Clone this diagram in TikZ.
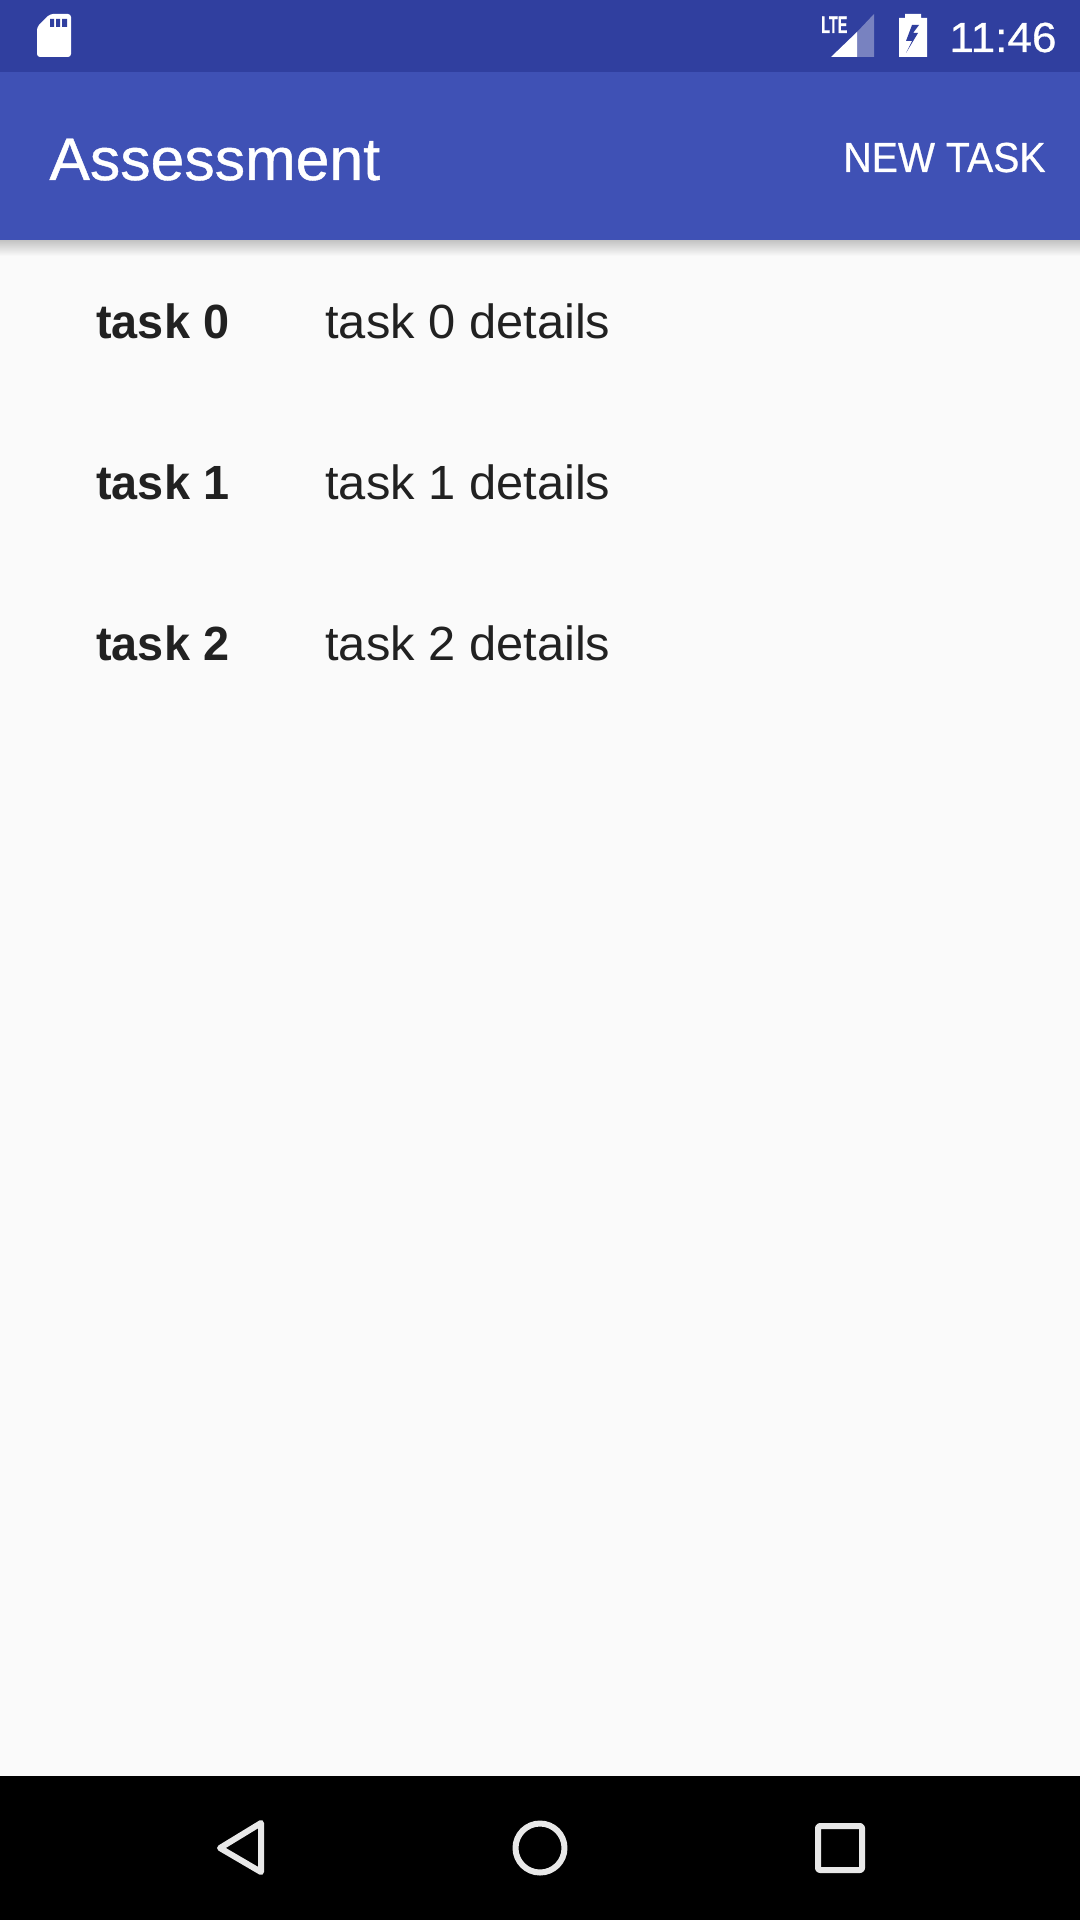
\documentclass[tikz,border=0pt]{standalone}
\usepackage{fontspec}
\setmainfont{Liberation Sans}
\newfontfamily\mediumfont[FakeBold=0.7]{Liberation Sans}
\newfontfamily\bandfont[FakeBold=0.6]{Liberation Sans Bold}
\usetikzlibrary{positioning}
\definecolor{statusblue}{HTML}{303F9F}
\definecolor{barblue}{HTML}{3F51B5}
\definecolor{pagegray}{HTML}{FAFAFA}
\definecolor{inkgray}{HTML}{212121}
\definecolor{navgray}{HTML}{E8E8E8}

\begin{document}
\begin{tikzpicture}[
  x=0.5pt, y=-0.5pt,
  title/.style={inner sep=0pt, anchor=base west, text=white, xscale=1.012, font=\mediumfont\fontsize{30}{36}\selectfont},
  action/.style={inner sep=0pt, anchor=base west, text=white, xscale=0.935, font=\mediumfont\fontsize{21}{25}\selectfont},
  clock/.style={inner sep=0pt, anchor=base west, text=white, xscale=1.05, font=\mediumfont\fontsize{21}{25}\selectfont},
  taskname/.style={inner sep=0pt, anchor=base west, text=inkgray, xscale=0.975, font=\fontsize{24}{29}\selectfont\bfseries},
  taskinfo/.style={inner sep=0pt, anchor=base west, text=inkgray, xscale=1.017, font=\fontsize{24}{29}\selectfont},
  navicon/.style={draw=navgray, line width=3pt, line join=round},
]
  % page and bars
  \useasboundingbox (0,0) rectangle (1080,1920);
  \fill[pagegray] (0,0) rectangle (1080,1920);
  \shade[top color=black!22!pagegray, bottom color=pagegray] (0,240) rectangle (1080,256);
  \fill[statusblue] (0,0) rectangle (1080,72);
  \fill[barblue] (0,72) rectangle (1080,240);
  \fill[black] (0,1776) rectangle (1080,1920);

  % status icons
  \fill[white, rounded corners=1.5pt] (37,57) -- (37,27) -- (50,14) -- (71,14) -- (71,57) -- cycle;
  \fill[statusblue] (50,19) rectangle (54,27) (56,19) rectangle (60,27) (62,19) rectangle (67,27);
  \node[inner sep=0pt, anchor=base west, text=white, xscale=0.6, font=\bandfont\fontsize{12}{14}\selectfont] (lte) at (821,33) {LTE};
  \fill[white, opacity=0.35] (857,32) -- (874,14) -- (874,57) -- (857,57) -- cycle;
  \fill[white] (831,57) -- (857,32) -- (857,57) -- cycle;
  \fill[white] (899,18) -- (905,18) -- (905,14) -- (921,14) -- (921,18) -- (927,18) -- (927,57) -- (899,57) -- cycle;
  \fill[statusblue] (919,25) -- (912,25) -- (906,41) -- (912,41) -- (906,53) -- (918,33) -- (913,33) -- cycle;
  \node[clock] (time) at (949,52) {11:46};

  % app bar
  \node[title] (appname) at (49,180) {Assessment};
  \node[action] (newtask) at (843,172) {NEW TASK};

  % task rows
  \node[taskname] (name0) at (96,339) {task 0};
  \node[taskname] (name1) at (96,499.5) {task 1};
  \node[taskname] (name2) at (96,660) {task 2};
  \node[taskinfo] (info0) at (325,339) {task 0 details};
  \node[taskinfo] (info1) at (325,499.5) {task 1 details};
  \node[taskinfo] (info2) at (325,660) {task 2 details};

  % navigation keys
  \draw[navicon] (261,1823) -- (261,1872) -- (220,1848) -- cycle;
  \draw[navicon] (540,1848) circle (24.5);
  \draw[navicon, rounded corners=1pt] (818,1826) rectangle (862,1870);
\end{tikzpicture}
\end{document}
